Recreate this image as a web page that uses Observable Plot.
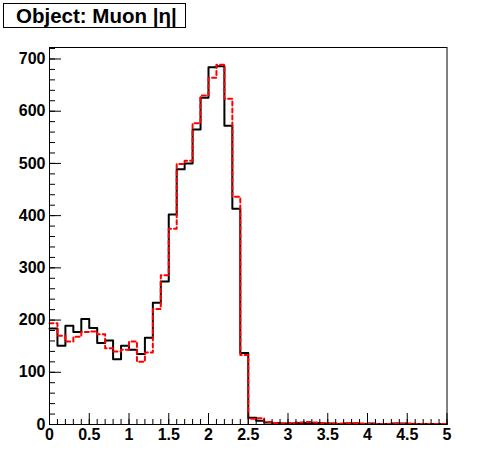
<!DOCTYPE html>
<html>
<head>
<meta charset="utf-8">
<script src="https://cdn.jsdelivr.net/npm/d3@7"></script>
<script src="https://cdn.jsdelivr.net/npm/@observablehq/plot@0.6"></script>
<style>
  html, body { margin: 0; padding: 0; background: #fff; }
  #wrap { position: relative; width: 496px; height: 472px; }
  #title {
    position: absolute; left: 3px; top: 3px; width: 183px; height: 25px;
    border: 1px solid #000; background: #fff; box-sizing: border-box;
    font-family: "Liberation Sans", Arial, sans-serif; font-weight: bold;
    font-size: 20.5px; line-height: 23px; padding-left: 12px; white-space: nowrap;
  }
  svg { font-family: "Liberation Sans", Arial, sans-serif; }
</style>
</head>
<body>
<div id="wrap">
  <div id="chart"></div>
  <div id="title">Object: Muon |η|</div>
</div>
<script>
// Histogram of muon |eta|, 50 bins of width 0.1 from 0 to 5
const binWidth = 0.1;
const xMin = 0, xMax = 5;
const blackCounts = [184,151,189,177,202,185,156,161,125,151,
                     143,135,166,233,274,402,489,500,565,626,
                     684,686,572,413,137,13,7,4,3,2,
                     2,3,3,3,2,2,1,2,2,1,
                     2,1,1,2,2,1,1,1,1,1];
const redCounts   = [194,170,159,168,177,178,173,146,140,143,
                     159,120,138,221,286,375,499,505,577,630,
                     664,689,624,436,133,11,12,5,3,2,
                     3,4,5,4,3,2,2,3,3,2,
                     1,1,1,2,1,2,1,1,1,1];
const yMax = 722;
const xTickLabels = [0,0.5,1,1.5,2,2.5,3,3.5,4,4.5,5];
const yTickLabels = [0,100,200,300,400,500,600,700];

function steps(counts) {
  const pts = counts.map((v, i) => ({x: xMin + i * binWidth, y: v}));
  pts.push({x: xMax, y: counts[counts.length - 1]});
  return pts;
}

const W = 496, H = 472;
const mL = 49, mR = 49.5, mT = 47, mB = 48;
const plotW = W - mL - mR, plotH = H - mT - mB;

const xMinor = d3.range(0, 51).map(i => i * binWidth).filter(v => v <= xMax + 1e-9);
const yMinor = d3.range(0, yMax, 20);
const font = {fontSize: 16, fontWeight: "bold"};

const chart = Plot.plot({
  width: W, height: H,
  marginLeft: mL, marginRight: mR, marginTop: mT, marginBottom: mB,
  x: {domain: [xMin, xMax]},
  y: {domain: [0, yMax]},
  style: {fontFamily: "Liberation Sans, Arial, sans-serif", background: "white", overflow: "visible"},
  marks: [
    Plot.line(steps(blackCounts), {x: "x", y: "y", curve: "step-after", stroke: "black", strokeWidth: 2}),
    Plot.line(steps(redCounts), {x: "x", y: "y", curve: "step-after", stroke: "#ff0000", strokeWidth: 2, strokeDasharray: "4,3"}),
    Plot.tickX(xMinor, {x: d => d, stroke: "black", strokeWidth: 1, insetTop: plotH - 5}),
    Plot.tickX(xTickLabels, {x: d => d, stroke: "black", strokeWidth: 1, insetTop: plotH - 11}),
    Plot.tickY(yMinor, {y: d => d, stroke: "black", strokeWidth: 1, insetRight: plotW - 6}),
    Plot.tickY(yTickLabels, {y: d => d, stroke: "black", strokeWidth: 1, insetRight: plotW - 12}),
    Plot.frame({stroke: "black", strokeWidth: 1}),
    Plot.axisX({ticks: xTickLabels, tickSize: 0, tickPadding: 4, tickFormat: d => String(d), label: null, ...font, fill: "black"}),
    Plot.axisY({ticks: yTickLabels, tickSize: 0, tickPadding: 4, tickFormat: d => String(d), label: null, ...font, fill: "black"})
  ]
});
document.getElementById("chart").appendChild(chart);
</script>
</body>
</html>
